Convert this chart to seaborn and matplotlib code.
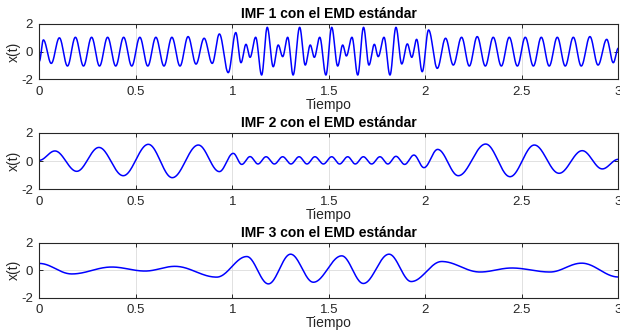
import numpy as np
import pandas as pd
import matplotlib
matplotlib.use("Agg")
import matplotlib.pyplot as plt
import seaborn as sns

# Turning points (time, amplitude) of each intrinsic mode function
imf1_t = [0.000, 0.021, 0.062, 0.104, 0.146, 0.187, 0.229, 0.271, 0.312, 0.354,
          0.396, 0.437, 0.479, 0.521, 0.562, 0.604, 0.646, 0.687, 0.729, 0.771,
          0.812, 0.854, 0.896, 0.933, 0.979, 1.018, 1.045, 1.071, 1.092, 1.121,
          1.152, 1.181, 1.212, 1.238, 1.261, 1.287, 1.315, 1.349, 1.378, 1.404,
          1.425, 1.453, 1.485, 1.515, 1.546, 1.572, 1.591, 1.620, 1.650, 1.680,
          1.708, 1.736, 1.756, 1.786, 1.817, 1.848, 1.878, 1.907, 1.930, 1.955,
          1.984, 2.017, 2.062, 2.105, 2.145, 2.188, 2.228, 2.269, 2.311, 2.352,
          2.394, 2.435, 2.477, 2.518, 2.560, 2.601, 2.642, 2.684, 2.725, 2.767,
          2.808, 2.853, 2.895, 2.940, 2.974, 3.000]
imf1_x = [-0.70, 0.85, -0.85, 1.00, -1.04, 1.04, -1.04, 1.04, -1.04, 1.04,
          -1.04, 1.04, -1.04, 1.04, -1.04, 1.04, -1.04, 1.04, -1.04, 1.09,
          -0.90, 0.97, -0.85, 1.28, -1.52, 1.38, -0.80, 0.53, -0.41, 1.04,
          -1.69, 1.76, -1.09, 0.48, -0.36, 1.04, -1.69, 1.76, -0.97, 0.48,
          -0.41, 1.04, -1.69, 1.76, -1.04, 0.48, -0.31, 1.04, -1.69, 1.76,
          -0.97, 0.53, -0.36, 1.04, -1.69, 1.76, -0.89, 0.56, -0.41, 0.89,
          -1.45, 1.57, -1.21, 0.97, -0.97, 1.04, -1.04, 1.09, -1.04, 1.04,
          -1.04, 1.04, -1.04, 1.04, -1.04, 1.04, -1.04, 1.04, -1.04, 1.04,
          -1.04, 1.09, -0.97, 0.89, -0.80, 0.25]

imf2_t = [0.000, 0.081, 0.194, 0.309, 0.435, 0.565, 0.689, 0.824, 0.933, 1.005,
          1.049, 1.092, 1.133, 1.175, 1.218, 1.261, 1.304, 1.346, 1.387, 1.428,
          1.472, 1.515, 1.556, 1.598, 1.637, 1.679, 1.722, 1.765, 1.806, 1.848,
          1.893, 1.941, 1.993, 2.064, 2.171, 2.313, 2.439, 2.565, 2.693, 2.813,
          2.917, 3.000]
imf2_x = [0.05, 0.71, -0.73, 0.96, -1.04, 1.18, -1.18, 1.13, -0.75, 0.54,
          -0.24, 0.31, -0.21, 0.30, -0.21, 0.30, -0.21, 0.30, -0.21, 0.30,
          -0.21, 0.30, -0.21, 0.30, -0.21, 0.30, -0.21, 0.30, -0.21, 0.33,
          -0.24, 0.42, -0.47, 0.82, -1.04, 1.20, -1.11, 1.13, -0.87, 0.73,
          -0.56, 0.12]

imf3_t = [0.000, 0.168, 0.375, 0.548, 0.703, 0.919, 1.075, 1.187, 1.302, 1.420,
          1.567, 1.679, 1.812, 1.927, 2.085, 2.283, 2.448, 2.646, 2.810, 3.000]
imf3_x = [0.50, -0.26, 0.24, -0.05, 0.29, -0.49, 1.00, -0.98, 1.17, -0.86,
          1.05, -0.95, 1.17, -0.81, 0.64, -0.12, 0.17, -0.12, 0.52, -0.48]

titles = ["IMF 1 con el EMD estándar",
          "IMF 2 con el EMD estándar",
          "IMF 3 con el EMD estándar"]
x_label = "Tiempo"
y_label = "x(t)"
x_ticks = [0, 0.5, 1, 1.5, 2, 2.5, 3]
x_tick_labels = ["0", "0.5", "1", "1.5", "2", "2.5", "3"]
y_ticks = [-2, 0, 2]
y_tick_labels = ["-2", "0", "2"]


def smooth_trace(t_turn, x_turn, steps=40):
    """Join successive turning points with half-cosine arcs."""
    t_turn = np.asarray(t_turn, float)
    x_turn = np.asarray(x_turn, float)
    s = np.linspace(0.0, 1.0, steps, endpoint=False)
    ts, xs = [], []
    for i in range(len(t_turn) - 1):
        w = (1.0 - np.cos(np.pi * s)) / 2.0
        ts.append(t_turn[i] + (t_turn[i + 1] - t_turn[i]) * s)
        xs.append(x_turn[i] + (x_turn[i + 1] - x_turn[i]) * w)
    ts.append([t_turn[-1]])
    xs.append([x_turn[-1]])
    return pd.DataFrame({"t": np.concatenate(ts), "x": np.concatenate(xs)})


sns.set_theme(style="white")
plt.rcParams["font.family"] = ["Liberation Sans", "DejaVu Sans"]
ink = "#262626"

fig = plt.figure(figsize=(6.2, 3.3), dpi=100)
fig.patch.set_facecolor("white")

W, H = 620.0, 330.0
left_px, right_px = 39.3, 618.3
rows_px = [(24.0, 79.3), (132.7, 189.3), (242.7, 298.0)]
series = [(imf1_t, imf1_x), (imf2_t, imf2_x), (imf3_t, imf3_x)]

for (top, bottom), (tt, xx), title in zip(rows_px, series, titles):
    ax = fig.add_axes([left_px / W, 1 - bottom / H,
                       (right_px - left_px) / W, (bottom - top) / H])
    df = smooth_trace(tt, xx)
    sns.lineplot(data=df, x="t", y="x", ax=ax, color="#0000ff",
                 linewidth=1.1, estimator=None, sort=False)
    ax.set_xlim(0, 3)
    ax.set_ylim(-2, 2)
    ax.set_xticks(x_ticks)
    ax.set_xticklabels(x_tick_labels)
    ax.set_yticks(y_ticks)
    ax.set_yticklabels(y_tick_labels)
    ax.grid(True, color="#dcdcdc", linewidth=0.6)
    ax.set_axisbelow(True)
    for sp in ax.spines.values():
        sp.set_color(ink)
        sp.set_linewidth(0.8)
        sp.set_visible(True)
    ax.tick_params(direction="in", length=3, width=0.7, color=ink,
                   labelcolor=ink, labelsize=9.5, top=True, right=True,
                   bottom=True, left=True, pad=4.5)
    ax.set_xlabel(x_label, fontsize=10, color=ink, labelpad=0)
    ax.set_ylabel(y_label, fontsize=10, color=ink, labelpad=0.5)
    ax.set_title(title, fontsize=10, fontweight="bold", color="black", pad=4)

fig.savefig("out.png", dpi=100, facecolor="white")
